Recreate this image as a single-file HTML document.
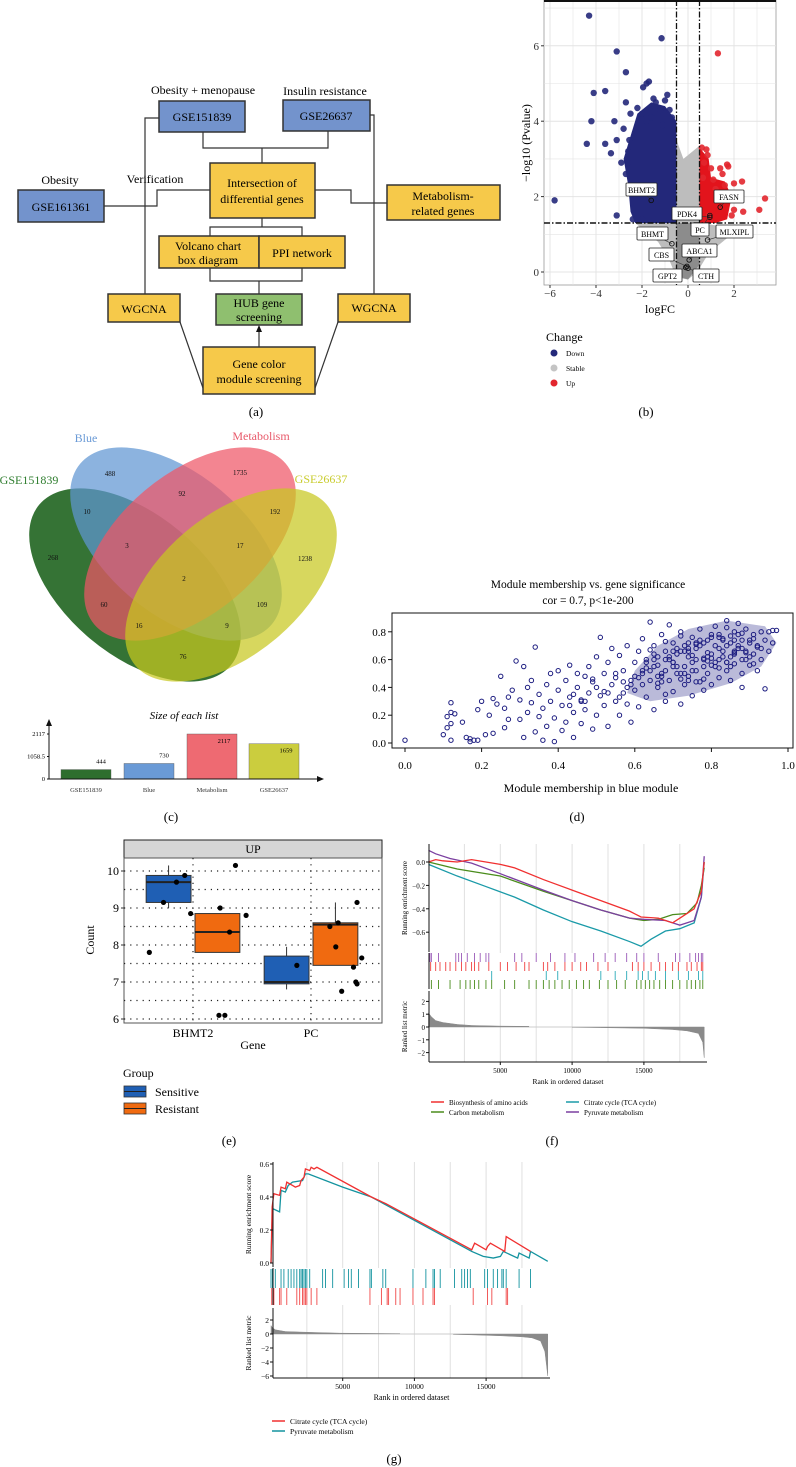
<!DOCTYPE html>
<html><head><meta charset="utf-8">
<style>
html,body{margin:0;padding:0;background:#fff;}
svg{display:block;font-family:"Liberation Serif",serif;}
</style></head>
<body>
<svg id="fig" width="796" height="1467" viewBox="0 0 796 1467" xmlns="http://www.w3.org/2000/svg">
<rect x="0" y="0" width="796" height="1467" fill="#fff"/>

<!-- ===== Panel (a) flowchart ===== -->
<g font-size="12" text-anchor="middle">
  <g stroke="#333" stroke-width="1.2" fill="none">
    <polyline points="203,132 203,148 328,148 328,131"/>
    <line x1="262" y1="148" x2="262" y2="163"/>
    <polyline points="159,118 145,118 145,294"/>
    <polyline points="370,115 374,115 374,294"/>
    <polyline points="104,206 157,206 157,190 210,190"/>
    <polyline points="315,190 351,190 351,203 387,203"/>
    <line x1="262" y1="218" x2="262" y2="227"/>
    <polyline points="210,236 210,227 302,227 302,236"/>
    <polyline points="210,268 210,281 302,281 302,268"/>
    <line x1="259" y1="281" x2="259" y2="294"/>
    <line x1="259" y1="347" x2="259" y2="330"/>
    <line x1="180" y1="322" x2="203" y2="388"/>
    <line x1="338" y1="322" x2="315" y2="388"/>
  </g>
  <polygon points="259,325 256,332 262,332" fill="#111"/>
  <text x="203" y="94">Obesity + menopause</text>
  <text x="325" y="95">Insulin resistance</text>
  <text x="60" y="184">Obesity</text>
  <text x="155" y="183">Verification</text>
  <g stroke="#333" stroke-width="1.5">
    <rect x="159" y="101" width="86" height="31" fill="#7393cc"/>
    <rect x="283" y="100" width="87" height="31" fill="#7393cc"/>
    <rect x="18" y="190" width="86" height="32" fill="#7393cc"/>
    <rect x="210" y="163" width="105" height="55" fill="#f6c94a"/>
    <rect x="387" y="185" width="113" height="35" fill="#f6c94a"/>
    <rect x="159" y="236" width="100" height="32" fill="#f6c94a"/>
    <rect x="259" y="236" width="86" height="32" fill="#f6c94a"/>
    <rect x="108" y="294" width="72" height="28" fill="#f6c94a"/>
    <rect x="216" y="294" width="86" height="31" fill="#8fbf6f"/>
    <rect x="338" y="294" width="72" height="28" fill="#f6c94a"/>
    <rect x="203" y="347" width="112" height="47" fill="#f6c94a"/>
  </g>
  <text x="202" y="121">GSE151839</text>
  <text x="326" y="120">GSE26637</text>
  <text x="61" y="211">GSE161361</text>
  <text x="262" y="187">Intersection of</text>
  <text x="262" y="203">differential genes</text>
  <text x="443" y="200">Metabolism-</text>
  <text x="443" y="215">related genes</text>
  <text x="208" y="250">Volcano chart</text>
  <text x="208" y="264">box diagram</text>
  <text x="302" y="257">PPI network</text>
  <text x="144" y="313">WGCNA</text>
  <text x="259" y="307">HUB gene</text>
  <text x="259" y="321">screening</text>
  <text x="374" y="312">WGCNA</text>
  <text x="259" y="368">Gene color</text>
  <text x="259" y="383">module screening</text>
</g>
<text x="256" y="416" font-size="13" text-anchor="middle">(a)</text>
<text x="646" y="416" font-size="13" text-anchor="middle">(b)</text>

<!-- ===== Panel (b) volcano ===== -->
<g id="volcano"></g>

<!-- ===== Panel (c) venn ===== -->
<g>
  <ellipse cx="135" cy="585" rx="125" ry="70" transform="rotate(40 135 585)" fill="#2a6b2a" fill-opacity="0.95"/>
  <ellipse cx="176" cy="544" rx="125" ry="70" transform="rotate(40 176 544)" fill="#5f95d2" fill-opacity="0.72"/>
  <ellipse cx="190" cy="544" rx="125" ry="70" transform="rotate(-40 190 544)" fill="#ee5666" fill-opacity="0.72"/>
  <ellipse cx="231" cy="585" rx="125" ry="70" transform="rotate(-40 231 585)" fill="#c8c820" fill-opacity="0.72"/>
  <g font-size="12" text-anchor="middle">
    <text x="86" y="442" fill="#6a9ad6">Blue</text>
    <text x="261" y="440" fill="#e8596a">Metabolism</text>
    <text x="29" y="484" fill="#2e7d2e">GSE151839</text>
    <text x="321" y="483" fill="#c9cc2e">GSE26637</text>
  </g>
  <g font-size="7" text-anchor="middle" fill="#111">
    <text x="110" y="476">488</text><text x="240" y="475">1735</text>
    <text x="87" y="514">10</text><text x="182" y="496">92</text><text x="275" y="514">192</text>
    <text x="53" y="560">268</text><text x="127" y="548">3</text><text x="240" y="548">17</text><text x="305" y="561">1238</text>
    <text x="184" y="581">2</text><text x="104" y="607">60</text><text x="262" y="607">109</text>
    <text x="139" y="628">16</text><text x="227" y="628">9</text><text x="183" y="659">76</text>
  </g>
</g>
<g id="barsize"></g>
<text x="171" y="821" font-size="13" text-anchor="middle">(c)</text>

<!-- ===== Panel (d) scatter ===== -->
<g id="scatter"></g>
<text x="577" y="821" font-size="13" text-anchor="middle">(d)</text>

<!-- ===== Panel (e) boxplot ===== -->
<g id="boxplot"></g>
<text x="229" y="1145" font-size="13" text-anchor="middle">(e)</text>

<!-- ===== Panel (f) GSEA ===== -->
<g id="gseaF"></g>
<text x="552" y="1145" font-size="13" text-anchor="middle">(f)</text>

<!-- ===== Panel (g) GSEA ===== -->
<g id="gseaG"></g>
<text x="394" y="1463" font-size="13" text-anchor="middle">(g)</text>
</svg>

<script>
const NS = "http://www.w3.org/2000/svg";
function mk(tag, attrs, parent, txt) {
  const e = document.createElementNS(NS, tag);
  for (const k in attrs) e.setAttribute(k, attrs[k]);
  if (txt !== undefined) e.textContent = txt;
  parent.appendChild(e);
  return e;
}

/* ---------- Volcano data ---------- */
const volDownFC = [-4.3,-1.15,-3.1,-2.7,-4.1,-3.6,-4.2,-3.2,-4.4,-3.6,-3.1,-3.35,-5.8,-3.1,-2.8,-2.9,-2.7,-1.95,-1.8,-1.7,-2.0,-2.5,-1.4,-0.9,-2.3,-2.6,-1.2,-0.7,-2.0,-2.4,-2.55,-2.7,-1.5,-1.0,-2.2,-1.8,-0.8,-2.6,-1.6,-1.1];
const volDownP  = [6.8,6.2,5.85,5.3,4.75,4.8,4.0,4.0,3.4,3.4,3.5,3.15,1.9,1.5,3.8,2.9,4.5,4.9,5.0,5.05,4.2,4.2,4.5,4.7,3.7,2.9,4.3,4.1,1.4,1.4,3.5,2.6,4.6,4.55,4.35,4.0,4.3,3.2,4.1,3.9];
const volUpFC = [1.3,0.6,0.8,0.85,1.7,1.75,1.0,1.4,2.0,2.35,3.35,3.1,2.0,2.4,1.6,1.2,0.7,1.9,0.9,1.5,1.1,0.65];
const volUpP  = [5.8,3.3,3.25,3.1,2.85,2.8,2.75,2.75,2.35,2.4,1.95,1.65,1.65,1.6,2.3,2.2,2.9,1.5,1.5,2.6,2.45,2.5];
const volLabels = ["BHMT2","PDK4","FASN","PC","MLXIPL","BHMT","ABCA1","CBS","GPT2","CTH"];
const volLabFC  = [-1.6,0.95,1.4,0.95,0.85,-0.7,0.05,-0.05,-0.1,0.0];
const volLabP   = [1.9,1.45,1.72,1.5,0.85,0.75,0.32,0.15,0.12,0.1];
const volYTicks = [0,2,4,6];
const volXTicks = [-6,-4,-2,0,2];

(function(){
  const g = document.getElementById('volcano');
  const X = v => 688 + 23*v, Y = v => 272 - 37.7*v;
  mk('rect',{x:544,y:0,width:232,height:285,fill:'#fff',stroke:'#999','stroke-width':0.8},g);
  for (let v=-6; v<=3; v++) { mk('line',{x1:X(v),x2:X(v),y1:0,y2:285,stroke:'#e4e4e4','stroke-width':v%2===0?1:0.6},g); }
  for (let v=0; v<=7; v++) { mk('line',{x1:544,x2:776,y1:Y(v),y2:Y(v),stroke:'#e4e4e4','stroke-width':v%2===0?1:0.6},g); }
  mk('line',{x1:544,x2:776,y1:1,y2:1,stroke:'#111','stroke-width':2},g);
  const poly = (pts, fill) => mk('polygon',{points:pts.map(q=>X(q[0])+','+Y(q[1])).join(' '),fill:fill},g);
  const gb = poly([[-0.5,-0.15],[-0.8,0.3],[-1.3,0.8],[-1.9,1.1],[-2.3,1.3],[-0.5,1.3],[-0.5,3.5],[-0.2,3.0],[0.2,3.2],[0.5,3.35],[0.5,1.3],[1.6,1.2],[1.7,0.9],[0.9,0.5],[0.4,0.0],[0,-0.2]],'#bdbdbd');
  
  
  const gd = poly([[-0.5,-0.1],[-0.5,1.3],[0.5,1.3],[0.5,0.2],[0,-0.2]],'#8c8c8c');
  
  
  const db = poly([[-0.5,1.3],[-2.3,1.3],[-2.5,1.6],[-2.6,2.3],[-2.8,3.0],[-2.5,3.6],[-2.2,4.2],[-1.6,4.5],[-1.0,4.4],[-0.5,4.0]],'#23287a');
  
  
  const ub = poly([[0.5,1.3],[0.5,3.3],[0.9,3.0],[1.0,2.5],[1.6,2.4],[1.9,2.0],[1.7,1.4],[1.2,1.3]],'#e2141c');
  
  
  volDownFC.forEach((v,i)=>{
    const c = mk('circle',{cx:X(v),cy:Y(volDownP[i]),r:3.2,fill:'#23287a','fill-opacity':0.9},g);
    
    
  });
  volUpFC.forEach((v,i)=>{
    const c = mk('circle',{cx:X(v),cy:Y(volUpP[i]),r:3.2,fill:'#e2262e','fill-opacity':0.9},g);
    
    
  });
  [-0.5,0.5].forEach(v=>{ const l = mk('line',{x1:X(v),x2:X(v),y1:0,y2:285,stroke:'#111','stroke-width':1.3,'stroke-dasharray':'6,2,1.5,2'},g);
      });
  const hl = mk('line',{x1:544,x2:776,y1:Y(1.3),y2:Y(1.3),stroke:'#111','stroke-width':1.5,'stroke-dasharray':'6,2,1.5,2'},g);
  
  
  const boxes = [[626,183,31],[672,207,30],[714,190,30],[691,223,18],[716,225,37],[637,227,31],[682,244,35],[649,248,25],[653,269,29],[693,269,26]];
  volLabels.forEach((t,i)=>{
    const b = boxes[i];
    const px = X(volLabFC[i]), py = Y(volLabP[i]);
    mk('line',{x1:px,y1:py,x2:b[0]+b[2]/2,y2:b[1]+7,stroke:'#333','stroke-width':0.6},g);
    mk('circle',{cx:px,cy:py,r:2.3,fill:'none',stroke:'#111','stroke-width':0.9},g);
    const r = mk('rect',{x:b[0],y:b[1],width:b[2],height:13,fill:'#fff',stroke:'#222','stroke-width':0.8,rx:1},g);
    
    
    const tx = mk('text',{x:b[0]+b[2]/2,y:b[1]+10,'font-size':8,'text-anchor':'middle'},g,t);
    
    
  });
  volYTicks.forEach(v=>{ mk('line',{x1:541,x2:544,y1:Y(v),y2:Y(v),stroke:'#333'},g);
    const t = mk('text',{x:539,y:Y(v)+4,'font-size':11,'text-anchor':'end',fill:'#333'},g,String(v));
      });
  volXTicks.forEach(v=>{ mk('line',{x1:X(v),x2:X(v),y1:285,y2:288,stroke:'#333'},g);
    const t = mk('text',{x:X(v),y:297,'font-size':11,'text-anchor':'middle',fill:'#333'},g,v<0?'\u2212'+(-v):String(v));
      });
  const xt = mk('text',{x:660,y:313,'font-size':12,'text-anchor':'middle'},g,'logFC');
   
  const yt = mk('text',{x:0,y:0,'font-size':12,'text-anchor':'middle',transform:'translate(530,143) rotate(-90)'},g,'\u2212log10 (Pvalue)');
   
  const lt = mk('text',{x:546,y:341,'font-size':12},g,'Change');
   
  [['Down','#23287a',353],['Stable','#c4c4c4',368],['Up','#e2262e',383]].forEach(d=>{
    const c = mk('circle',{cx:554,cy:d[2],r:3.5,fill:d[1]},g);
     
    mk('text',{x:566,y:d[2]+3,'font-size':7.5},g,d[0]);
  });
})();

/* ---------- List-size bars ---------- */
const listNames = ["GSE151839","Blue","Metabolism","GSE26637"];
const listSizes = [444,730,2117,1659];
const listTicks = [0,1058.5,2117];
(function(){
  const g = document.getElementById('barsize');
  const base = 779, Y = v => base - v*45/2117;
  const colors = ['#2e6e2e','#6a9ad6','#ee6a72','#cbcd3e'];
  const xs = [61,124,187,249];
  const t = mk('text',{x:184,y:719,'font-size':11,'font-style':'italic','text-anchor':'middle'},g,'Size of each list');
   
  listSizes.forEach((v,i)=>{
    const r = mk('rect',{x:xs[i],y:Y(v),width:50,height:base-Y(v),fill:colors[i],stroke:'#555','stroke-width':0.4},g);
    
    
    const inside = v > 1500;
    mk('text',{x:xs[i]+(inside?37:40),y:inside?Y(v)+9:Y(v)-6,'font-size':6.5,'text-anchor':'middle'},g,String(v));
    mk('text',{x:xs[i]+25,y:792,'font-size':6.5,'text-anchor':'middle',fill:'#333'},g,listNames[i]);
  });
  listTicks.forEach(v=>{ mk('text',{x:45,y:Y(v)+2,'font-size':6.5,'text-anchor':'end'},g,String(v));
    mk('line',{x1:47,x2:49,y1:Y(v),y2:Y(v),stroke:'#111'},g); });
  mk('line',{x1:49,x2:49,y1:base,y2:724,stroke:'#111','stroke-width':1},g);
  mk('polygon',{points:'49,719 46,726 52,726',fill:'#111'},g);
  mk('line',{x1:49,x2:318,y1:base,y2:base,stroke:'#111','stroke-width':1},g);
  mk('polygon',{points:'324,779 317,776 317,782',fill:'#111'},g);
})();

/* ---------- Scatter (d) ---------- */
const mmVals = [0.00,0.10,0.11,0.12,0.11,0.12,0.13,0.12,0.12,0.15,0.17,0.17,0.18,0.19,0.16,0.19,0.2,0.21,0.22,0.23,0.23,0.24,0.25,0.26,0.26,0.27,0.27,0.28,0.29,0.30,0.30,0.31,0.31,0.32,0.32,0.33,0.33,0.34,0.34,0.35,0.35,0.36,0.36,0.37,0.37,0.38,0.38,0.39,0.39,0.40,0.40,0.41,0.41,0.42,0.42,0.43,0.43,0.44,0.44,0.45,0.45,0.46,0.46,0.47,0.47,0.48,0.48,0.49,0.49,0.50,0.50,0.51,0.51,0.52,0.52,0.53,0.53,0.54,0.54,0.55,0.55,0.56,0.56,0.57,0.57,0.58,0.58,0.59,0.59,0.60,0.60,0.61,0.61,0.62,0.62,0.63,0.63,0.64,0.64,0.65,0.65,0.65,0.66,0.66,0.67,0.67,0.68,0.68,0.69,0.69,0.7,0.7,0.7,0.71,0.71,0.72,0.72,0.73,0.73,0.73,0.74,0.74,0.75,0.75,0.75,0.76,0.76,0.77,0.77,0.78,0.78,0.78,0.79,0.79,0.8,0.8,0.8,0.81,0.81,0.82,0.82,0.83,0.83,0.84,0.84,0.85,0.85,0.85,0.86,0.86,0.87,0.87,0.88,0.88,0.88,0.89,0.89,0.9,0.9,0.91,0.91,0.92,0.92,0.93,0.93,0.94,0.95,0.95,0.96,0.96,0.97,0.64,0.66,0.68,0.72,0.74,0.76,0.78,0.82,0.84,0.86,0.7,0.8,0.82,0.86,0.9,0.62,0.6,0.68,0.72,0.76,0.84,0.88,0.79,0.74,0.66,0.63,0.58,0.56,0.53,0.5,0.47,0.44,
  0.61,0.63,0.65,0.67,0.69,0.71,0.73,0.75,0.77,0.79,0.81,0.83,0.85,0.87,0.89,0.91,0.93,0.62,0.64,0.66,0.68,0.70,0.72,0.74,0.76,0.78,0.80,0.82,0.84,0.86,0.88,0.90,0.92,0.94,0.65,0.67,0.69,0.71,0.73,0.75,0.77,0.79,0.81,0.83,0.85,0.87,0.89,0.91,0.68,0.70,0.72,0.74,0.76,0.78,0.80,0.82,0.84,0.86,0.88,0.57,0.59,0.55,0.52,0.49,0.46,0.43];
const gsVals = [0.02,0.06,0.11,0.14,0.19,0.22,0.21,0.29,0.02,0.15,0.01,0.03,0.02,0.02,0.04,0.24,0.3,0.06,0.2,0.32,0.07,0.28,0.48,0.11,0.25,0.17,0.33,0.38,0.59,0.31,0.17,0.55,0.04,0.4,0.22,0.29,0.45,0.69,0.08,0.35,0.19,0.02,0.25,0.42,0.12,0.5,0.3,0.01,0.18,0.38,0.52,0.27,0.09,0.45,0.15,0.33,0.56,0.22,0.04,0.4,0.5,0.14,0.3,0.48,0.24,0.55,0.36,0.1,0.44,0.2,0.62,0.76,0.34,0.5,0.27,0.12,0.58,0.42,0.68,0.3,0.47,0.2,0.63,0.36,0.52,0.28,0.7,0.45,0.15,0.58,0.38,0.26,0.66,0.5,0.75,0.33,0.6,0.45,0.87,0.24,0.55,0.7,0.4,0.62,0.5,0.78,0.3,0.66,0.45,0.85,0.58,0.37,0.72,0.5,0.64,0.28,0.8,0.55,0.42,0.7,0.62,0.48,0.76,0.34,0.58,0.68,0.52,0.82,0.44,0.6,0.72,0.38,0.5,0.65,0.78,0.56,0.42,0.7,0.84,0.6,0.47,0.75,0.66,0.88,0.52,0.62,0.72,0.45,0.8,0.57,0.68,0.86,0.6,0.74,0.5,0.82,0.66,0.72,0.56,0.78,0.64,0.7,0.52,0.8,0.6,0.74,0.8,0.66,0.81,0.72,0.81,0.52,0.56,0.6,0.66,0.72,0.6,0.55,0.68,0.7,0.64,0.66,0.64,0.78,0.74,0.62,0.42,0.48,0.52,0.46,0.44,0.58,0.68,0.74,0.66,0.48,0.54,0.4,0.33,0.36,0.4,0.3,0.35,
  0.47,0.58,0.64,0.44,0.6,0.68,0.5,0.63,0.74,0.59,0.55,0.62,0.77,0.7,0.65,0.75,0.68,0.52,0.67,0.43,0.73,0.55,0.77,0.45,0.71,0.61,0.76,0.54,0.83,0.65,0.79,0.74,0.69,0.39,0.6,0.48,0.62,0.55,0.66,0.52,0.7,0.62,0.58,0.74,0.55,0.78,0.6,0.57,0.35,0.58,0.5,0.68,0.72,0.46,0.61,0.76,0.58,0.66,0.4,0.44,0.42,0.5,0.37,0.46,0.31,0.27];
const scXTicks = [0.0,0.2,0.4,0.6,0.8,1.0];
const scYTicks = [0.0,0.2,0.4,0.6,0.8];
(function(){
  const g = document.getElementById('scatter');
  const X = v => 405 + 383*v, Y = v => 743 - 139*v;
  const t1 = mk('text',{x:588,y:588,'font-size':11.5,'text-anchor':'middle'},g,'Module membership vs. gene significance');
   
  const t2 = mk('text',{x:588,y:604,'font-size':11.5,'text-anchor':'middle'},g,'cor = 0.7, p<1e-200');
   
  mk('rect',{x:392,y:613,width:401,height:135,fill:'#fff',stroke:'#111','stroke-width':1},g);
  const core = mk('polygon',{points:[[0.58,0.36],[0.6,0.52],[0.66,0.7],[0.74,0.82],[0.84,0.88],[0.94,0.84],[0.97,0.72],[0.93,0.55],[0.85,0.43],[0.74,0.34],[0.64,0.3]].map(q=>X(q[0])+','+Y(q[1])).join(' '),fill:'#1c1c80','fill-opacity':0.3},g);
  
  
  mmVals.forEach((v,i)=>{
    const c = mk('circle',{cx:X(v),cy:Y(gsVals[i]),r:2.2,fill:'none',stroke:'#1c1c80','stroke-width':1},g);
    
    
  });
  scXTicks.forEach(v=>{ mk('line',{x1:X(v),x2:X(v),y1:748,y2:752,stroke:'#111'},g);
    const t = mk('text',{x:X(v),y:769,'font-size':11,'text-anchor':'middle'},g,v.toFixed(1));
      });
  scYTicks.forEach(v=>{ mk('line',{x1:388,x2:392,y1:Y(v),y2:Y(v),stroke:'#111'},g);
    const t = mk('text',{x:386,y:Y(v)+4,'font-size':11,'text-anchor':'end'},g,v.toFixed(1));
      });
  const xt = mk('text',{x:591,y:792,'font-size':12,'text-anchor':'middle'},g,'Module membership in blue module');
   
})();

/* ---------- Box plot (e) ---------- */
const boxGenes = ["BHMT2","PC"];
const boxGroups = ["Sensitive","Resistant"];
const boxQ1 = [[9.15,7.8],[6.95,7.45]];
const boxMed = [[9.7,8.35],[7.0,8.55]];
const boxQ3 = [[9.88,8.85],[7.7,8.6]];
const boxLo = [[9.0,7.8],[6.8,7.45]];
const boxHi = [[10.15,8.85],[7.95,9.15]];
const ptGene = [0,0,0,0,0,0,0,0,0,0,0,1,1,1,1,1,1,1,1,1,1];
const ptJit  = [-0.37,-0.25,-0.14,-0.07,-0.02,0.23,0.31,0.36,0.45,0.22,0.27,-0.12,0.16,0.23,0.21,0.39,0.43,0.36,0.26,0.39,0.38];
const ptVal  = [7.8,9.15,9.7,9.88,8.85,9.0,8.35,10.15,8.8,6.1,6.1,7.45,8.5,8.6,7.95,9.15,7.65,7.4,6.75,6.95,7.0];
const boxYTicks = [6,7,8,9,10];
(function(){
  const g = document.getElementById('boxplot');
  const catX = [193,311], Y = v => 1019 - 37*(v-6);
  const bw = 0.38*118;
  mk('rect',{x:124,y:840,width:258,height:18,fill:'#d6d6d6',stroke:'#222','stroke-width':1},g);
  const st = mk('text',{x:253,y:853,'font-size':12,'text-anchor':'middle'},g,'UP');
   
  mk('rect',{x:124,y:858,width:258,height:165,fill:'#fff',stroke:'#555','stroke-width':1},g);
  for (let v=6; v<=10.01; v+=0.5) mk('line',{x1:124,x2:382,y1:Y(v),y2:Y(v),stroke:'#222','stroke-width':1.2,'stroke-dasharray':'1.2,5'},g);
  catX.forEach(x=>mk('line',{x1:x,x2:x,y1:858,y2:1023,stroke:'#222','stroke-width':1.2,'stroke-dasharray':'1.2,5'},g));
  const cols = ['#1f5fb4','#f06a10'];
  boxGenes.forEach((gn,i)=>{
    boxGroups.forEach((gr,j)=>{
      const cx = catX[i] + (j===0?-1:1)*(bw/2+2);
      mk('line',{x1:cx,x2:cx,y1:Y(boxHi[i][j]),y2:Y(boxLo[i][j]),stroke:'#333','stroke-width':1},g);
      const r = mk('rect',{x:cx-bw/2,y:Y(boxQ3[i][j]),width:bw,height:Y(boxQ1[i][j])-Y(boxQ3[i][j]),fill:cols[j],stroke:'#333','stroke-width':1},g);
      
      
      mk('line',{x1:cx-bw/2,x2:cx+bw/2,y1:Y(boxMed[i][j]),y2:Y(boxMed[i][j]),stroke:'#222','stroke-width':2},g);
    });
  });
  ptVal.forEach((v,i)=>{
    const c = mk('circle',{cx:catX[ptGene[i]]+ptJit[i]*118,cy:Y(v),r:2.6,fill:'#000'},g);
    
    
  });
  boxYTicks.forEach(v=>{ mk('line',{x1:121,x2:124,y1:Y(v),y2:Y(v),stroke:'#333'},g);
    const t = mk('text',{x:119,y:Y(v)+4,'font-size':12,'text-anchor':'end'},g,String(v));
      });
  boxGenes.forEach((gn,i)=>{ const t = mk('text',{x:catX[i],y:1037,'font-size':12,'text-anchor':'middle'},g,gn);
      });
  const xt = mk('text',{x:253,y:1049,'font-size':12,'text-anchor':'middle'},g,'Gene');
   
  const yt = mk('text',{x:0,y:0,'font-size':12,'text-anchor':'middle',transform:'translate(94,940) rotate(-90)'},g,'Count');
   
  const lg = mk('text',{x:123,y:1077,'font-size':12},g,'Group');
   
  boxGroups.forEach((gr,j)=>{
    const y0 = j===0?1086:1103;
    const r = mk('rect',{x:124,y:y0,width:22,height:11,fill:cols[j],stroke:'#333','stroke-width':0.8},g);
     
    mk('line',{x1:124,x2:146,y1:y0+5.5,y2:y0+5.5,stroke:'#222','stroke-width':1},g);
    mk('text',{x:155,y:y0+10,'font-size':12},g,gr);
  });
})();

/* ---------- GSEA (f) ---------- */
const fNames = ["Biosynthesis of amino acids","Carbon metabolism","Citrate cycle (TCA cycle)","Pyruvate metabolism"];
const fRedRank = [0,500,1000,2000,3000,4000,5000,6000,8000,10000,12000,14000,14800,16000,17000,17500,18500,19000,19200];
const fRedES   = [0.0,0.02,0.01,0.0,0.02,0.0,-0.02,-0.05,-0.15,-0.24,-0.33,-0.42,-0.47,-0.48,-0.52,-0.48,-0.4,-0.25,0.0];
const fGreenRank = [0,1000,2000,3000,5000,8000,10000,12000,14000,15000,16000,17000,18000,18700,19000,19200];
const fGreenES   = [0.0,-0.03,-0.06,-0.08,-0.12,-0.25,-0.33,-0.41,-0.48,-0.5,-0.49,-0.45,-0.44,-0.35,-0.2,-0.05];
const fTealRank = [0,2000,4000,6000,8000,10000,12000,14000,14800,15500,16500,17500,18500,19000,19200];
const fTealES   = [-0.02,-0.12,-0.21,-0.3,-0.41,-0.51,-0.59,-0.68,-0.72,-0.66,-0.59,-0.57,-0.52,-0.3,0.0];
const fPurpleRank = [0,500,1500,3000,5000,8000,10000,12000,14000,15000,16500,17500,18500,19000,19200];
const fPurpleES   = [0.1,0.07,0.03,-0.01,-0.1,-0.24,-0.33,-0.41,-0.48,-0.49,-0.5,-0.54,-0.5,-0.3,0.05];
const fPurpleHits = [100,200,700,1900,2100,2300,2700,3200,3600,4000,4200,6000,6500,7500,8500,9500,10200,11500,12300,13000,13800,14500,15000,16000,17200,17500,18200,18600,18800,19000,19100];
const fRedHits = [150,500,800,1200,1500,1900,2300,2600,3000,3200,3500,4200,5000,5500,6100,6700,7000,8000,8300,8800,9500,10000,10600,11000,11800,12500,14200,14600,15000,15500,16100,16500,17000,17400,18000,18300,18700,19000,19100];
const fTealHits = [4400,8200,9000,12000,13000,13800,14600,14900,15300,15800,16500,17400,18100,18800,19100];
const fGreenHits = [200,700,1500,2200,2600,2900,3200,3500,4000,4400,5300,6000,7000,7500,8000,8400,8800,9300,9800,10300,10800,11200,11900,12500,13100,13700,14500,14800,15100,15400,15700,16100,16500,17000,17500,18000,18300,18600,18900,19100];
const fMetricRankA = [0,200,500,1000,2000,3000,5000,7000];
const fMetricA     = [1.1,0.8,0.5,0.35,0.2,0.12,0.07,0.05];
const fMetricRankB = [10000,12000,15000,17000,18000,18800,19100,19200];
const fMetricB     = [-0.02,-0.05,-0.1,-0.2,-0.3,-0.5,-1.2,-2.4];
const fESTicks = [0.0,-0.2,-0.4,-0.6];
const fMetTicks = [2,1,0,-1,-2];
const fRankTicks = [5000,10000,15000];

/* ---------- GSEA (g) ---------- */
const gNames = ["Citrate cycle (TCA cycle)","Pyruvate metabolism"];
const gRedRank = [0,80,200,600,700,1000,1100,1500,1700,2000,2100,2300,2400,2700,2800,3000,3200,7000,8000,14000,14200,15000,15100,15300,16300,16400,18100];
const gRedES   = [0,0.34,0.42,0.41,0.46,0.45,0.49,0.47,0.46,0.47,0.5,0.52,0.57,0.56,0.58,0.57,0.58,0.4,0.36,0.08,0.12,0.08,0.1,0.12,0.07,0.16,0.07];
const gTealRank = [0,100,600,700,1000,1200,1500,2200,2400,2600,5000,7000,14000,14800,15500,16000,16200,17200,17300,18000,18100,19300];
const gTealES   = [0,0.33,0.31,0.44,0.43,0.47,0.49,0.5,0.54,0.54,0.46,0.4,0.07,0.04,0.03,0.04,0.07,0.03,0.06,0.03,0.07,0.01];
const gTealHits = [0,100,300,700,900,1200,1400,1600,1800,2000,2100,2200,2300,2400,2500,2700,3600,3800,4300,5100,5400,5600,6100,6900,7000,7800,8000,9900,10800,11300,11400,11800,12800,13300,13500,13700,13900,14900,15100,15500,15800,16100,16200,16400,17300,18100];
const gRedHits = [50,200,600,700,1100,1800,2000,2200,2300,2400,2500,2800,3200,6900,7700,8100,8200,8700,9000,9900,10600,11300,11400,14100,15100,15400,16400,16500];
const gMetricRankA = [0,100,300,1000,2000,3000,4800,9000];
const gMetricA     = [1.2,0.9,0.6,0.35,0.28,0.22,0.12,0.05];
const gMetricRankB = [12700,14000,16000,17500,18200,18800,19100,19300];
const gMetricB     = [-0.05,-0.12,-0.25,-0.4,-0.55,-1.0,-2.5,-6];
const gESTicks = [0.0,0.2,0.4,0.6];
const gMetTicks = [2,0,-2,-4,-6];
const gRankTicks = [5000,10000,15000];

function gsea(cfg) {
  const g = document.getElementById(cfg.id);
  const X = r => cfg.x0 + (r/5000)*cfg.px5000;
  const Yes = v => cfg.es0 - v*cfg.esScale;
  const Ym = v => cfg.m0 - v*cfg.mScale;
  for (let r=2500; r<19500; r+=2500) mk('line',{x1:X(r),x2:X(r),y1:cfg.top,y2:cfg.mBottom,stroke:'#e0e0e0','stroke-width':1},g);
  mk('rect',{x:cfg.left,y:cfg.hitTop,width:cfg.right-cfg.left,height:cfg.hitBottom-cfg.hitTop,fill:'#fff'},g);
  cfg.lines.forEach(L=>{
    const p = mk('polyline',{points:L.rank.map((r,i)=>X(r)+','+Yes(L.es[i])).join(' '),fill:'none',stroke:L.color,'stroke-width':1.3},g);
    
    
  });
  cfg.hits.forEach(H=>{
    H.ranks.forEach(r=>{
      const l = mk('line',{x1:X(r),x2:X(r),y1:H.y0,y2:H.y1,stroke:H.color,'stroke-width':0.9},g);
      
      
    });
  });
  [[cfg.mRankA,cfg.mA],[cfg.mRankB,cfg.mB]].forEach(seg=>{
    const pts = [X(seg[0][0])+','+Ym(0)].concat(seg[0].map((r,i)=>X(r)+','+Ym(seg[1][i]))).concat([X(seg[0][seg[0].length-1])+','+Ym(0)]);
    const a = mk('polygon',{points:pts.join(' '),fill:'#8a8a8a',stroke:'#8a8a8a','stroke-width':0.5},g);
    
    
  });
  mk('line',{x1:X(cfg.mRankA[cfg.mRankA.length-1]),x2:X(cfg.mRankB[0]),y1:Ym(0),y2:Ym(0),stroke:'#ccc','stroke-width':1},g);
  mk('line',{x1:cfg.left,x2:cfg.left,y1:cfg.top,y2:cfg.esBottom,stroke:'#111','stroke-width':1},g);
  mk('line',{x1:cfg.left,x2:cfg.left,y1:cfg.hitTop,y2:cfg.hitBottom,stroke:'#111','stroke-width':1},g);
  mk('line',{x1:cfg.left,x2:cfg.left,y1:cfg.mTop,y2:cfg.mBottom,stroke:'#111','stroke-width':1},g);
  mk('line',{x1:cfg.left,x2:cfg.right,y1:cfg.mBottom,y2:cfg.mBottom,stroke:'#111','stroke-width':1},g);
  cfg.esTicks.forEach(v=>{ mk('line',{x1:cfg.left-3,x2:cfg.left,y1:Yes(v),y2:Yes(v),stroke:'#111'},g);
    const t = mk('text',{x:cfg.left-4,y:Yes(v)+3,'font-size':cfg.fs,'text-anchor':'end'},g,(v<0?'\u2212'+(-v).toFixed(1):v.toFixed(1)));
      });
  cfg.mTicks.forEach(v=>{ mk('line',{x1:cfg.left-3,x2:cfg.left,y1:Ym(v),y2:Ym(v),stroke:'#111'},g);
    const t = mk('text',{x:cfg.left-4,y:Ym(v)+3,'font-size':cfg.fs,'text-anchor':'end'},g,(v<0?'\u2212'+(-v):String(v)));
      });
  cfg.rTicks.forEach(r=>{ mk('line',{x1:X(r),x2:X(r),y1:cfg.mBottom,y2:cfg.mBottom+3,stroke:'#111'},g);
    const t = mk('text',{x:X(r),y:cfg.mBottom+11,'font-size':cfg.fs,'text-anchor':'middle'},g,String(r));
      });
  const xt = mk('text',{x:(cfg.left+cfg.right)/2,y:cfg.mBottom+22,'font-size':cfg.fs+0.5,'text-anchor':'middle'},g,'Rank in ordered dataset');
   
  const y1 = mk('text',{x:0,y:0,'font-size':cfg.fs,'text-anchor':'middle',transform:'translate('+cfg.ylabX+','+((cfg.top+cfg.esBottom)/2)+') rotate(-90)'},g,'Running enrichment score');
   
  const y2 = mk('text',{x:0,y:0,'font-size':cfg.fs,'text-anchor':'middle',transform:'translate('+cfg.ylabX+','+((cfg.mTop+cfg.mBottom)/2)+') rotate(-90)'},g,'Ranked list metric');
   
  cfg.legend.forEach(L=>{
    const l = mk('line',{x1:L.x,x2:L.x+13,y1:L.y,y2:L.y,stroke:L.color,'stroke-width':1.5},g);
     
    mk('text',{x:L.x+18,y:L.y+3,'font-size':cfg.fs},g,L.name);
  });
}

gsea({id:'gseaF', x0:428.5, px5000:71.8, left:429, right:707, top:844, esBottom:952, es0:862, esScale:117,
  hitTop:953, hitBottom:989, mTop:991, mBottom:1062, m0:1027, mScale:12.8, fs:7, ylabX:407,
  lines:[{rank:fGreenRank,es:fGreenES,color:'#4a8c1c'},{rank:fTealRank,es:fTealES,color:'#1a9aa8'},{rank:fPurpleRank,es:fPurpleES,color:'#7b3fa0'},{rank:fRedRank,es:fRedES,color:'#f03030'}],
  hits:[{ranks:fPurpleHits,color:'#9a5ab8',y0:953,y1:962},{ranks:fRedHits,color:'#f04040',y0:962,y1:971},{ranks:fTealHits,color:'#2aaab8',y0:971,y1:980},{ranks:fGreenHits,color:'#4a8c1c',y0:980,y1:989}],
  mRankA:fMetricRankA, mA:fMetricA, mRankB:fMetricRankB, mB:fMetricB,
  esTicks:fESTicks, mTicks:fMetTicks, rTicks:fRankTicks,
  legend:[{x:431,y:1102,color:'#f03030',name:fNames[0]},{x:431,y:1112,color:'#4a8c1c',name:fNames[1]},{x:566,y:1102,color:'#1a9aa8',name:fNames[2]},{x:566,y:1112,color:'#7b3fa0',name:fNames[3]}]
});

gsea({id:'gseaG', x0:271, px5000:71.7, left:273, right:550, top:1162, esBottom:1267, es0:1263, esScale:165,
  hitTop:1268, hitBottom:1305, mTop:1308, mBottom:1378, m0:1334, mScale:7, fs:7.5, ylabX:251,
  lines:[{rank:gTealRank,es:gTealES,color:'#13939f'},{rank:gRedRank,es:gRedES,color:'#f03030'}],
  hits:[{ranks:gTealHits,color:'#13939f',y0:1269,y1:1288},{ranks:gRedHits,color:'#f04848',y0:1288,y1:1305}],
  mRankA:gMetricRankA, mA:gMetricA, mRankB:gMetricRankB, mB:gMetricB,
  esTicks:gESTicks, mTicks:gMetTicks, rTicks:gRankTicks,
  legend:[{x:272,y:1421,color:'#f03030',name:gNames[0]},{x:272,y:1431,color:'#13939f',name:gNames[1]}]
});
</script>
</body></html>
